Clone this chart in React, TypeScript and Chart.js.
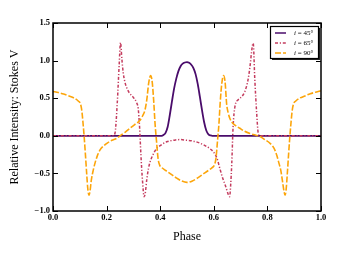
import React, { useEffect, useRef } from 'react';
import { Chart, registerables } from 'chart.js';

Chart.register(...registerables);

const seriesLabels = ['45°', '65°', '90°'];
const seriesColors = ['#4a0c6b', '#c43c5e', '#fca50a'];

const xTickValues = [0, 0.2, 0.4, 0.6, 0.8, 1.0];
const yTickValues = [-1.0, -0.5, 0.0, 0.5, 1.0, 1.5];

const purplePhase = [0, 0.405, 0.412, 0.42, 0.428, 0.436, 0.444, 0.452, 0.46, 0.468, 0.476, 0.484, 0.492, 0.5, 0.508, 0.516, 0.524, 0.532, 0.54, 0.548, 0.556, 0.564, 0.572, 0.58, 0.588, 0.595, 1.0];
const purpleV = [0, 0, 0.01, 0.04, 0.12, 0.28, 0.46, 0.63, 0.76, 0.86, 0.925, 0.96, 0.975, 0.98, 0.97, 0.945, 0.9, 0.82, 0.69, 0.52, 0.34, 0.18, 0.07, 0.02, 0.005, 0, 0];

const pinkPhase = [0, 0.225, 0.232, 0.24, 0.247, 0.252, 0.257, 0.262, 0.268, 0.275, 0.285, 0.3, 0.312, 0.318, 0.323, 0.328, 0.334, 0.34, 0.344, 0.35, 0.356, 0.362, 0.372, 0.386, 0.4, 0.424, 0.45, 0.473, 0.5, 0.523, 0.55, 0.585, 0.6, 0.612, 0.623, 0.633, 0.645, 0.653, 0.659, 0.663, 0.667, 0.672, 0.679, 0.691, 0.704, 0.716, 0.728, 0.736, 0.742, 0.747, 0.753, 0.76, 0.766, 0.772, 1.0];
const pinkV = [0, 0, 0.05, 0.45, 0.95, 1.24, 1.02, 0.84, 0.72, 0.64, 0.57, 0.51, 0.44, 0.36, 0.12, -0.25, -0.6, -0.81, -0.77, -0.58, -0.44, -0.35, -0.26, -0.17, -0.13, -0.08, -0.06, -0.05, -0.06, -0.07, -0.1, -0.17, -0.22, -0.3, -0.44, -0.56, -0.68, -0.77, -0.81, -0.65, -0.37, 0.12, 0.39, 0.48, 0.52, 0.59, 0.75, 0.95, 1.15, 1.23, 0.75, 0.3, 0.03, 0, 0];

const orangePhase = [0, 0.02, 0.04, 0.06, 0.08, 0.095, 0.103, 0.108, 0.112, 0.116, 0.121, 0.126, 0.13, 0.134, 0.138, 0.143, 0.15, 0.157, 0.165, 0.175, 0.19, 0.205, 0.22, 0.237, 0.25, 0.27, 0.287, 0.305, 0.323, 0.335, 0.343, 0.35, 0.357, 0.364, 0.37, 0.376, 0.381, 0.386, 0.392, 0.398, 0.405, 0.42, 0.44, 0.46, 0.48, 0.5, 0.52, 0.54, 0.56, 0.58, 0.595, 0.602, 0.608, 0.614, 0.619, 0.624, 0.63, 0.636, 0.642, 0.648, 0.654, 0.66, 0.67, 0.68, 0.697, 0.715, 0.735, 0.755, 0.772, 0.79, 0.81, 0.82, 0.828, 0.835, 0.842, 0.85, 0.857, 0.862, 0.866, 0.87, 0.874, 0.879, 0.884, 0.888, 0.892, 0.897, 0.905, 0.92, 0.94, 0.96, 0.98, 1.0];
const orangeV = [0.59, 0.575, 0.555, 0.53, 0.5, 0.46, 0.42, 0.32, 0.17, 0.0, -0.25, -0.52, -0.71, -0.79, -0.74, -0.59, -0.46, -0.36, -0.27, -0.19, -0.13, -0.09, -0.06, -0.035, 0.0, 0.05, 0.1, 0.15, 0.2, 0.27, 0.34, 0.48, 0.7, 0.8, 0.72, 0.45, 0.15, -0.06, -0.3, -0.39, -0.42, -0.46, -0.51, -0.56, -0.6, -0.62, -0.6, -0.56, -0.51, -0.46, -0.42, -0.39, -0.3, -0.06, 0.15, 0.45, 0.7, 0.8, 0.72, 0.42, 0.3, 0.23, 0.17, 0.14, 0.1, 0.06, 0.03, 0.01, -0.01, -0.05, -0.1, -0.14, -0.19, -0.26, -0.35, -0.46, -0.62, -0.74, -0.79, -0.71, -0.52, -0.25, 0.0, 0.17, 0.32, 0.42, 0.46, 0.5, 0.53, 0.56, 0.58, 0.6];

const FONT = "'Liberation Serif', 'DejaVu Serif', serif";
const dashPink = [3, 1.8, 1.2, 1.8];
const dashOrange = [6, 2];

function fmt(v: number) {
  return v < 0 ? '\u2212' + Math.abs(v).toFixed(1) : v.toFixed(1);
}

export default function App() {
  const ref = useRef<HTMLCanvasElement>(null);
  useEffect(() => {
    document.body.style.margin = '0';
    const canvas = ref.current!;
    const pts = (xs: number[], ys: number[]) => xs.map((x, i) => ({ x, y: ys[i] }));

    const framePlugin = {
      id: 'frame',
      afterDatasetsDraw(chart: any) {
        const { ctx, chartArea: a, scales } = chart;
        ctx.save();
        ctx.strokeStyle = '#000';
        ctx.lineWidth = 1;
        const tl = 5;
        ctx.beginPath();
        xTickValues.forEach((v) => {
          const px = Math.round(scales.x.getPixelForValue(v)) + 0.5;
          ctx.moveTo(px, a.bottom); ctx.lineTo(px, a.bottom - tl);
          ctx.moveTo(px, a.top); ctx.lineTo(px, a.top + tl);
        });
        yTickValues.forEach((v) => {
          const py = Math.round(scales.y.getPixelForValue(v)) + 0.5;
          ctx.moveTo(a.left, py); ctx.lineTo(a.left + tl, py);
          ctx.moveTo(a.right, py); ctx.lineTo(a.right - tl, py);
        });
        ctx.stroke();
        ctx.lineWidth = 1.5;
        ctx.strokeRect(a.left, a.top, a.right - a.left, a.bottom - a.top);
        ctx.restore();
      },
      afterDraw(chart: any) {
        const { ctx, chartArea: a } = chart;
        const bw = 48, bh = 32;
        const bx = a.right - 51, by = a.top + 3;
        ctx.save();
        ctx.fillStyle = '#222';
        ctx.fillRect(bx + 2, by + 2, bw, bh);
        ctx.fillStyle = '#fff';
        ctx.fillRect(bx, by, bw, bh);
        ctx.strokeStyle = '#000';
        ctx.lineWidth = 1.2;
        ctx.strokeRect(bx + 0.5, by + 0.5, bw, bh);
        const dashes = [[], dashPink, dashOrange];
        seriesLabels.forEach((lab, i) => {
          const yy = by + 7 + i * 10;
          ctx.beginPath();
          ctx.setLineDash(dashes[i]);
          ctx.strokeStyle = seriesColors[i];
          ctx.lineWidth = 1.5;
          ctx.moveTo(bx + 5, yy);
          ctx.lineTo(bx + 16, yy);
          ctx.stroke();
          ctx.setLineDash([]);
          ctx.fillStyle = '#000';
          ctx.textBaseline = 'middle';
          ctx.textAlign = 'left';
          ctx.font = `italic 7px ${FONT}`;
          const tx = bx + 24;
          ctx.fillText('i', tx, yy);
          const iw = ctx.measureText('i').width;
          ctx.font = `7px ${FONT}`;
          ctx.fillText(' = ' + lab, tx + iw, yy);
        });
        ctx.restore();
      },
    };

    const chart = new Chart(canvas, {
      type: 'line',
      data: {
        datasets: [
          {
            label: 'i = 90°', data: pts(orangePhase, orangeV), borderColor: seriesColors[2],
            borderWidth: 1.6, borderDash: dashOrange, pointRadius: 0, cubicInterpolationMode: 'monotone', order: 0,
          },
          {
            label: 'i = 65°', data: pts(pinkPhase, pinkV), borderColor: seriesColors[1],
            borderWidth: 1.5, borderDash: dashPink, pointRadius: 0, cubicInterpolationMode: 'monotone', order: 1,
          },
          {
            label: 'i = 45°', data: pts(purplePhase, purpleV), borderColor: seriesColors[0],
            borderWidth: 1.8, pointRadius: 0, cubicInterpolationMode: 'monotone', order: 2,
          },
        ],
      },
      options: {
        responsive: false,
        animation: false,
        devicePixelRatio: 1,
        layout: { padding: { left: 0, right: 24, top: 23, bottom: 0 } },
        plugins: { legend: { display: false }, tooltip: { enabled: false } },
        scales: {
          x: {
            type: 'linear', min: 0, max: 1,
            grid: { display: false, drawTicks: false },
            border: { display: false },
            afterBuildTicks: (s: any) => { s.ticks = xTickValues.map((v) => ({ value: v })); },
            afterFit: (s: any) => { s.height = 48; },
            ticks: {
              padding: 2, color: '#000', maxRotation: 0,
              font: { family: FONT, size: 8.5, weight: 'bold' },
              callback: (v: any) => fmt(Number(v)),
            },
            title: {
              display: true, text: 'Phase', color: '#000',
              font: { family: FONT, size: 12 }, padding: { top: 0, bottom: 14.5 },
            },
          },
          y: {
            type: 'linear', min: -1, max: 1.5,
            grid: { display: false, drawTicks: false },
            border: { display: false },
            afterBuildTicks: (s: any) => { s.ticks = yTickValues.map((v) => ({ value: v })); },
            afterFit: (s: any) => { s.width = 53; },
            ticks: {
              padding: 3, color: '#000',
              font: { family: FONT, size: 8.5, weight: 'bold' },
              callback: (v: any) => fmt(Number(v)),
            },
            title: {
              display: true, text: 'Relative Intensity: Stokes V', color: '#000',
              font: { family: FONT, size: 12 }, padding: { top: 8, bottom: 0 },
            },
          },
        },
      } as any,
      plugins: [framePlugin],
    });
    return () => chart.destroy();
  }, []);

  return (
    <div style={{ position: 'fixed', left: 0, top: 0, width: 345, height: 259, background: '#fff' }}>
      <canvas ref={ref} width={345} height={259} style={{ width: 345, height: 259, display: 'block' }} />
    </div>
  );
}
